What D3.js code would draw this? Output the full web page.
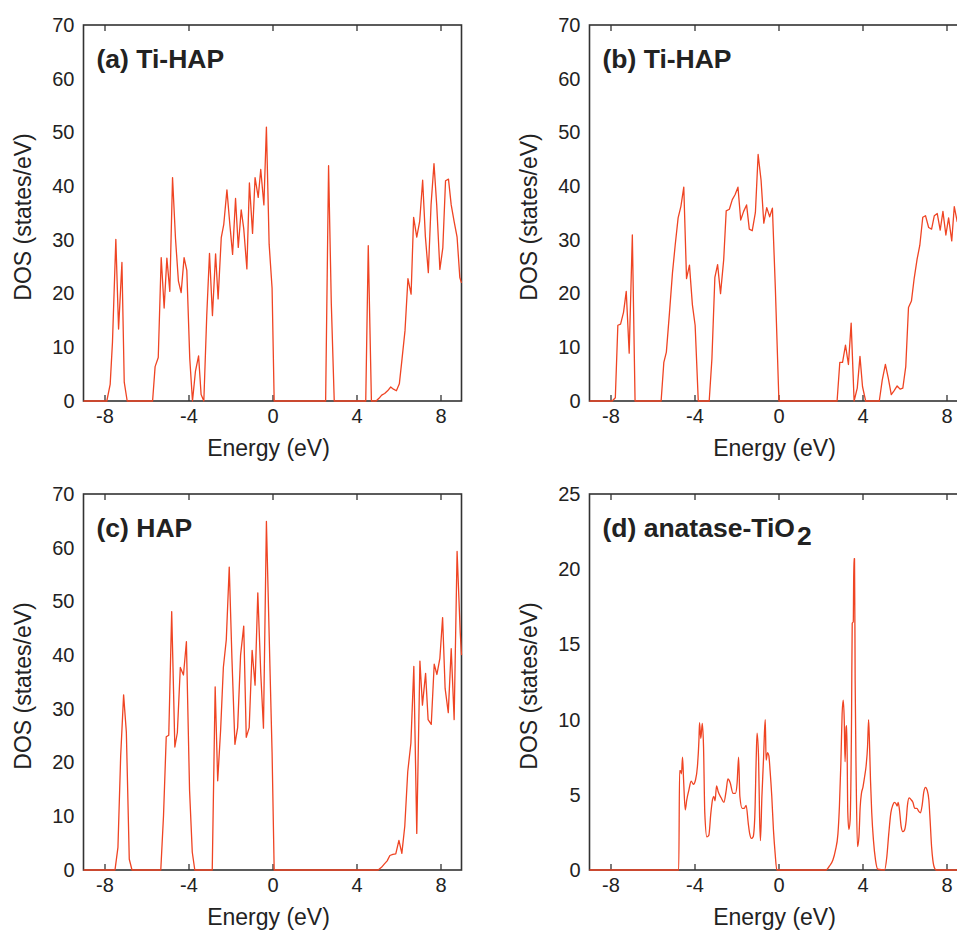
<!DOCTYPE html>
<html>
<head>
<meta charset="utf-8">
<script src="https://cdn.jsdelivr.net/npm/d3@7"></script>
<style>
  body { margin: 0; background: #fff; }
  svg { display: block; font-family: "Liberation Sans", Arial, Helvetica, sans-serif; }
</style>
</head>
<body>
<div id="chart"></div>
<script>
const width = 957, height = 931;

// energy ticks shared by all panels
const xTicks = [-8, -4, 0, 4, 8];
const yTicksA = [0, 10, 20, 30, 40, 50, 60, 70];
const yTicksD = [0, 5, 10, 15, 20, 25];

// [energy (eV), DOS (states/eV)]
const dosA = [[-9,0],[-7.89,0],[-7.73,3.1],[-7.62,11],[-7.46,30.1],[-7.33,13.4],[-7.17,25.8],[-7.06,3.5],[-6.92,0],
  [-5.71,0],[-5.59,6.4],[-5.44,8.1],[-5.30,26.7],[-5.16,17.3],[-5.03,26.6],[-4.89,20.4],[-4.76,41.6],[-4.62,30.3],
  [-4.48,22.3],[-4.35,20.2],[-4.21,26.7],[-4.08,24.3],[-3.94,7.9],[-3.81,0],[-3.67,5.5],[-3.52,8.4],[-3.40,1.2],
  [-3.27,0],[-3.13,16],[-3.00,27.5],[-2.86,15.9],[-2.71,27.4],[-2.59,19],[-2.44,30.4],[-2.32,32.9],[-2.17,39.3],
  [-2.03,32.8],[-1.90,27.3],[-1.76,37.7],[-1.63,28.6],[-1.49,35.6],[-1.37,32.1],[-1.22,24.6],[-1.10,40.6],
  [-0.95,31.2],[-0.83,41.6],[-0.68,37.9],[-0.56,43.1],[-0.41,36.5],[-0.29,51],[-0.16,29.2],[-0.02,21],[0.08,0],
  [2.53,0],[2.67,43.8],[2.80,18.2],[2.94,0],[4.44,0],[4.56,28.9],[4.71,0],[4.93,0],[5.07,0.5],[5.20,1.1],
  [5.34,1.4],[5.48,1.9],[5.63,2.6],[5.76,2.2],[5.90,1.9],[6.04,3.2],[6.17,7.9],[6.31,13.1],[6.45,22.8],[6.60,19.9],
  [6.72,34.2],[6.87,30.5],[7.01,33.5],[7.15,41.1],[7.28,30.6],[7.42,23.9],[7.55,36.5],[7.69,44.2],[7.82,36.5],
  [7.97,24.5],[8.11,28.5],[8.24,41],[8.38,41.3],[8.51,36.5],[8.65,33.4],[8.79,30.5],[8.92,23],[9,22]];

const dosB = [[-9,0],[-7.92,0],[-7.77,0.6],[-7.65,14.1],[-7.52,14.3],[-7.38,16.5],[-7.25,20.4],[-7.11,8.9],
  [-6.96,30.9],[-6.83,0],[-5.59,0],[-5.46,7.2],[-5.34,9.1],[-5.19,16.5],[-5.05,23.8],[-4.92,29],[-4.78,34.1],
  [-4.65,36.2],[-4.51,39.8],[-4.38,22.8],[-4.24,25.3],[-4.10,17.9],[-3.97,14.1],[-3.82,0],[-3.30,0],[-3.17,7.9],
  [-3.03,23],[-2.90,25.4],[-2.76,20],[-2.61,26.3],[-2.49,35.4],[-2.34,35.7],[-2.20,37.5],[-2.07,38.4],[-1.93,39.8],
  [-1.80,33.7],[-1.66,35.3],[-1.52,36.5],[-1.39,32],[-1.25,31.7],[-1.10,35.1],[-0.97,45.9],[-0.83,41.1],
  [-0.70,33.1],[-0.56,36],[-0.42,34.3],[-0.29,35.9],[-0.15,21],[0.02,0],[2.79,0],[2.92,7.2],[3.05,7.2],
  [3.19,10.4],[3.33,6.8],[3.46,14.5],[3.60,0],[3.75,2.4],[3.88,8.3],[4.0,2.7],[4.15,0],[4.80,0],[4.94,3.9],
  [5.09,6.8],[5.23,4.2],[5.37,1.2],[5.5,1.9],[5.65,2.8],[5.79,2.2],[5.92,2.4],[6.06,6.4],[6.19,17.4],[6.33,18.6],
  [6.46,22.8],[6.60,26.4],[6.73,29],[6.87,34.2],[7.0,34.5],[7.15,32.3],[7.29,32],[7.42,34.5],[7.56,34.9],
  [7.70,31.8],[7.83,35.3],[7.97,30.9],[8.10,34.1],[8.25,29.8],[8.37,36.2],[8.51,33.4],[8.65,35],[8.79,31],
  [8.92,34],[9,33]];

const dosC = [[-9,0],[-7.50,0],[-7.36,4.2],[-7.23,21.2],[-7.09,32.6],[-6.96,25.7],[-6.82,2.0],[-6.69,0],
  [-5.32,0],[-5.19,10.1],[-5.06,24.8],[-4.94,25.1],[-4.80,48.1],[-4.65,22.9],[-4.53,25.6],[-4.39,37.7],
  [-4.24,36.3],[-4.10,42.5],[-3.95,14.9],[-3.82,3.3],[-3.70,0],[-2.87,0],[-2.73,34.1],[-2.61,16.6],[-2.47,26.1],
  [-2.34,37.7],[-2.20,42.9],[-2.06,56.4],[-1.93,39.2],[-1.79,23.4],[-1.66,26.5],[-1.52,40],[-1.37,45.4],
  [-1.25,24.7],[-1.11,26.5],[-0.97,40.9],[-0.83,34.4],[-0.70,51.6],[-0.56,36.7],[-0.43,26.4],[-0.29,64.9],
  [-0.15,42.3],[-0.02,21.9],[0.08,0],[5.03,0],[5.19,0.5],[5.32,1.1],[5.46,1.7],[5.59,2.7],[5.73,2.9],[5.87,3.0],
  [6.02,5.5],[6.16,3.1],[6.30,8.2],[6.44,18.3],[6.59,23.6],[6.73,37.9],[6.87,6.8],[7.02,38.9],[7.14,30.7],
  [7.29,36.6],[7.41,28.0],[7.56,27.1],[7.70,38.3],[7.83,36.4],[7.97,39.4],[8.10,47.0],[8.22,33.8],[8.37,29.3],
  [8.51,41.2],[8.65,28],[8.79,59.3],[8.94,44.2],[9,40]];

const dosD = [[-9,0],[-4.75,0],[-4.71,6.6],[-4.67,6.6],[-4.62,6.4],[-4.57,7.5],[-4.52,6.0],[-4.44,4.0],
  [-4.37,4.65],[-4.27,5.3],[-4.16,5.9],[-4.05,5.7],[-3.95,6.0],[-3.86,6.9],[-3.79,8.6],[-3.76,9.8],[-3.70,8.75],
  [-3.63,9.75],[-3.57,8.2],[-3.51,3.8],[-3.41,2.2],[-3.32,2.3],[-3.22,3.8],[-3.14,4.7],[-3.08,4.9],[-3.02,4.6],
  [-2.95,5.6],[-2.87,5.2],[-2.73,4.8],[-2.60,4.5],[-2.49,5.3],[-2.41,6.05],[-2.30,5.8],[-2.17,5.1],[-2.05,5.1],
  [-1.97,5.8],[-1.90,7.5],[-1.84,4.9],[-1.73,4.1],[-1.63,4.1],[-1.54,4.3],[-1.44,3.1],[-1.37,2.4],[-1.29,2.1],
  [-1.21,2.2],[-1.13,3.5],[-1.06,7.5],[-1.02,9.1],[-0.95,7.5],[-0.90,3.5],[-0.86,1.95],[-0.79,4.9],[-0.71,7.5],
  [-0.67,9.1],[-0.63,10.0],[-0.59,7.3],[-0.52,7.8],[-0.46,7.6],[-0.40,6.6],[-0.32,4.9],[-0.24,2.65],[-0.16,1.1],
  [-0.08,0],[2.27,0],[2.43,0.27],[2.59,0.66],[2.71,1.3],[2.83,2.4],[2.90,4.2],[2.97,7.1],[3.03,10.4],[3.08,11.3],
  [3.13,10.0],[3.17,7.2],[3.22,9.5],[3.25,9.6],[3.30,3.8],[3.35,2.7],[3.41,3.3],[3.48,10.4],[3.51,16.4],
  [3.56,16.5],[3.59,20.7],[3.62,20.7],[3.65,12.6],[3.70,6.0],[3.76,1.55],[3.83,2.2],[3.89,4.2],[3.95,5.1],
  [4.02,5.5],[4.10,6.2],[4.17,6.9],[4.24,8.2],[4.29,10.0],[4.33,8.6],[4.38,6.0],[4.44,3.8],[4.52,2.0],[4.62,0.66],
  [4.73,0.05],[5.05,0],[5.16,0.9],[5.25,2.4],[5.35,3.8],[5.44,4.3],[5.52,4.5],[5.60,4.4],[5.65,4.25],[5.70,4.5],
  [5.76,4.0],[5.84,2.9],[5.92,2.55],[6.0,2.65],[6.08,3.3],[6.14,4.3],[6.22,4.8],[6.30,4.7],[6.40,4.5],[6.49,4.1],
  [6.59,4.1],[6.68,3.9],[6.76,3.8],[6.84,4.3],[6.92,5.2],[7.0,5.5],[7.08,5.3],[7.16,4.65],[7.22,3.3],[7.29,1.55],
  [7.35,0.66],[7.44,0.1],[7.51,0],[9,0]];

const panels = [
  {data: dosA, yMax: 70, yTicks: yTicksA, label: "(a) Ti-HAP", left: 83.5, top: 25, smooth: false},
  {data: dosB, yMax: 70, yTicks: yTicksA, label: "(b) Ti-HAP", left: 589.5, top: 25, smooth: false},
  {data: dosC, yMax: 70, yTicks: yTicksA, label: "(c) HAP", left: 83.5, top: 494, smooth: false},
  {data: dosD, yMax: 25, yTicks: yTicksD, label: "(d) anatase-TiO", sub: "2", left: 589.5, top: 494, smooth: true}
];

const pw = 378, ph = 376;
const lineColor = "#ef4423", ink = "#222";

const svg = d3.select("#chart")
  .append("svg")
  .attr("width", width)
  .attr("height", height)
  .attr("viewBox", [0, 0, width, height]);

panels.forEach(p => {
  const g = svg.append("g").attr("transform", `translate(${p.left},${p.top})`);

  const x = d3.scaleLinear([-9, 9], [0, pw]);
  const y = d3.scaleLinear([0, p.yMax], [ph, 0]);

  // bottom axis with inward ticks
  const xb = g.append("g")
    .attr("transform", `translate(0,${ph})`)
    .call(d3.axisBottom(x).tickValues(xTicks).tickSizeInner(-6).tickSizeOuter(0).tickPadding(8)
      .tickFormat(d => String(d)));
  // top ticks, no labels
  const xt = g.append("g")
    .call(d3.axisTop(x).tickValues(xTicks).tickSizeInner(-6).tickSizeOuter(0).tickFormat(""));
  const yl = g.append("g")
    .call(d3.axisLeft(y).tickValues(p.yTicks).tickSize(0).tickPadding(9));

  [xb, xt, yl].forEach(a => {
    a.select(".domain").remove();
    a.selectAll("line").attr("stroke", "#333").attr("stroke-width", 1.3);
    a.selectAll("text").attr("fill", ink).style("font-size", "20px");
  });

  g.append("rect")
    .attr("width", pw)
    .attr("height", ph)
    .attr("fill", "none")
    .attr("stroke", "#333")
    .attr("stroke-width", 1.6);

  const line = d3.line()
    .x(d => x(d[0]))
    .y(d => y(d[1]))
    .curve(p.smooth ? d3.curveMonotoneX : d3.curveLinear);

  g.append("path")
    .datum(p.data)
    .attr("fill", "none")
    .attr("stroke", lineColor)
    .attr("stroke-width", 1.3)
    .attr("stroke-linejoin", "round")
    .attr("d", line);

  const t = g.append("text")
    .attr("x", 13)
    .attr("y", 43)
    .attr("fill", ink)
    .style("font-size", "26.5px")
    .style("font-weight", "bold")
    .text(p.label);
  if (p.sub) {
    t.append("tspan").attr("dx", 2).attr("dy", 8).text(p.sub);
  }

  g.append("text")
    .attr("x", pw / 2 - 4)
    .attr("y", ph + 55)
    .attr("text-anchor", "middle")
    .attr("fill", ink)
    .style("font-size", "23px")
    .text("Energy (eV)");

  g.append("text")
    .attr("transform", `translate(-53,${ph / 2 + 4}) rotate(-90)`)
    .attr("text-anchor", "middle")
    .attr("fill", ink)
    .style("font-size", "23px")
    .text("DOS (states/eV)");
});
</script>
</body>
</html>
